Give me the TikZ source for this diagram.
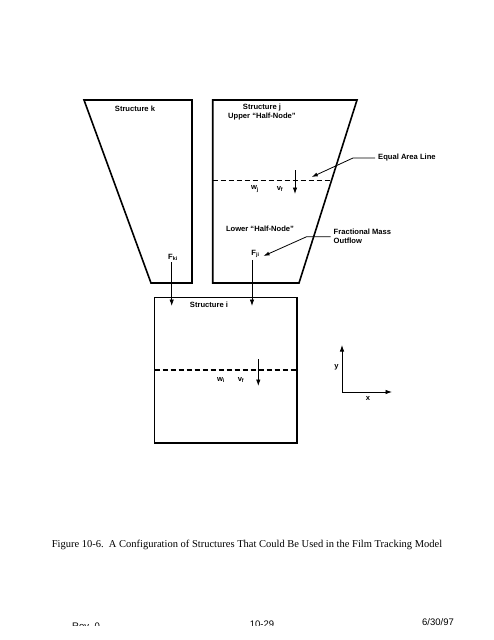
\documentclass[tikz,border=0pt]{standalone}
\usepackage{fontspec}
\setmainfont{Liberation Serif}
\setsansfont{Liberation Sans}
\usetikzlibrary{arrows.meta}

\begin{document}
\begin{tikzpicture}[x=1pt,y=-1pt,
	lbl/.style={font=\sffamily\bfseries\fontsize{7.6}{9}\selectfont, inner sep=0pt},
	wall/.style={line width=1.6pt, line join=miter},
	level/.style={line width=1.4pt, dash pattern=on 5pt off 3pt},
	flow/.style={line width=0.8pt, -{Latex[length=6.5pt,width=4.5pt]}},
	lead/.style={line width=0.8pt, -{Latex[length=6pt,width=4pt]}}]
	\useasboundingbox (0,0) rectangle (494,640);
	% the three structures
	\draw[wall] (84,100) -- (192,100) -- (192,283) -- (151,283) -- cycle;
	\draw[wall] (212.7,100) -- (357,100) -- (299,283) -- (212.7,283) -- cycle;
	\draw[wall] (154.5,297.5) rectangle (297,443);
	\node[lbl] (sk) at (135,109) {Structure k};
	\node[lbl, align=center] (sj) at (262,112) {Structure j\\Upper “Half-Node”};
	\node[lbl] (lower) at (260,229) {Lower “Half-Node”};
	\node[lbl] (si) at (209,305) {Structure i};
	% equal area lines
	\draw[level] (212.7,180.7) -- (331.4,180.7);
	\draw[level] (154.5,370) -- (297,370);
	\node[lbl] (wj) at (255,189) {w\textsubscript{j}};
	\node[lbl] (vfj) at (280,189) {v\textsubscript{f}};
	\node[lbl] (wi) at (221,380) {w\textsubscript{i}};
	\node[lbl] (vfi) at (241,380) {v\textsubscript{f}};
	\coordinate (vjtop) at (295,170);
	\coordinate (vjbot) at (295,194);
	\coordinate (vitop) at (258.3,359);
	\coordinate (vibot) at (258.3,386);
	\draw[flow] (vjtop) -- (vjbot);
	\draw[flow] (vitop) -- (vibot);
	% outflows into structure i
	\node[lbl] (fki) at (173,257) {F\textsubscript{ki}};
	\node[lbl] (fji) at (255.5,254) {F\textsubscript{ji}};
	\coordinate (fkiend) at (171.7,306);
	\coordinate (fjiend) at (252,306);
	\draw[flow] ([yshift=-2pt]fki.south -| fkiend) -- (fkiend);
	\draw[flow] ([yshift=-2pt]fji.south -| fjiend) -- (fjiend);
	% callouts
	\node[lbl, anchor=west] (eal) at (378,158) {Equal Area Line};
	\coordinate (ealtip) at (311.7,177);
	\draw[lead] ([xshift=-3pt]eal.west) -- (353,158) -- (ealtip);
	\node[lbl, anchor=west, align=left] (fmo) at (333.5,236.7) {Fractional Mass\\Outflow};
	\coordinate (fmotip) at (263.5,256);
	\draw[lead] ([xshift=-3pt]fmo.west) -- (306.7,236.7) -- (fmotip);
	% axes
	\coordinate (org) at (342,392);
	\coordinate (ytip) at (342,345);
	\coordinate (xtip) at (392,392);
	\draw[flow] (org) -- (ytip);
	\draw[flow] (org) -- (xtip);
	\node[lbl] (ylab) at (336.5,367) {y};
	\node[lbl] (xlab) at (368,398) {x};
	% caption and page footer
	\node[font=\fontsize{10.5}{12}\selectfont] (cap) at (247,545) {Figure 10-6.\ \ A Configuration of Structures That Could Be Used in the Film Tracking Model};
	\begin{scope}
		\clip (0,0) rectangle (494,625);
		\node[font=\sffamily\fontsize{9.5}{11}\selectfont, anchor=base] (rev) at (86,629) {Rev. 0};
		\node[font=\sffamily\fontsize{9.5}{11}\selectfont, anchor=base] (pg) at (262,627.5) {10-29};
		\node[font=\sffamily\fontsize{9.5}{11}\selectfont, anchor=base] (date) at (438,625) {6/30/97};
	\end{scope}
\end{tikzpicture}
\end{document}
